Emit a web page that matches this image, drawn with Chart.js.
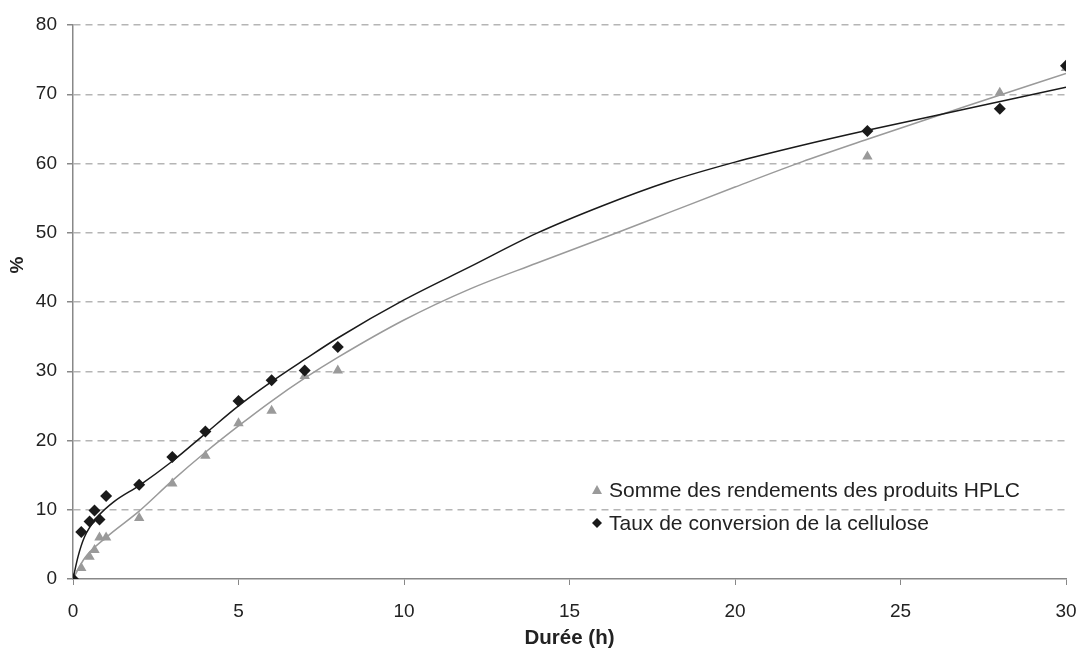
<!DOCTYPE html>
<html>
<head>
<meta charset="utf-8">
<script src="https://cdn.jsdelivr.net/npm/chart.js@4/dist/chart.umd.min.js"></script>
<style>
  html, body { margin: 0; padding: 0; background: #fff; }
  #wrap { width: 1082px; height: 655px; position: relative; }
</style>
</head>
<body>
<div id="wrap"><canvas id="chartCanvas"></canvas></div>
<script>
// measured points (h, %)
const hours = [0, 0.25, 0.5, 0.65, 0.8, 1, 2, 3, 4, 5, 6, 7, 8, 24, 28, 30];
const conversion = [0, 6.8, 8.3, 9.9, 8.6, 12.0, 13.6, 17.6, 21.3, 25.7, 28.7, 30.1, 33.5, 64.7, 67.9, 74.1];
const hplc = [0, 1.6, 3.2, 4.2, 6.0, 6.0, 8.8, 13.8, 17.8, 22.5, 24.3, 29.3, 30.1, 61.0, 70.2, 73.8];

// trend curves
const convTrendX = [0, 0.15, 0.35, 0.75, 1.25, 2, 3, 4, 5, 6, 7, 8, 10, 12, 14, 16, 18, 20, 22, 24, 27, 30];
const convTrendY = [0, 3.2, 6.1, 9.0, 11.2, 13.5, 17.0, 21.0, 25.0, 28.5, 31.7, 34.8, 40.3, 45.1, 49.9, 53.9, 57.4, 60.2, 62.6, 64.8, 67.9, 71.0];
const hplcTrendX = [0, 0.35, 1, 2, 3, 4, 5, 6, 7, 8, 10, 12, 14, 16, 18, 20, 22, 24, 27, 30];
const hplcTrendY = [0, 3.0, 6.0, 9.8, 14.2, 18.3, 22.1, 25.7, 29.0, 32.0, 37.4, 41.9, 45.6, 49.2, 52.9, 56.6, 60.2, 63.5, 68.3, 73.0];

const xTicks = [0, 5, 10, 15, 20, 25, 30];
const yTicks = [0, 10, 20, 30, 40, 50, 60, 70, 80];

const labelHplc = "Somme des rendements des produits HPLC";
const labelConv = "Taux de conversion de la cellulose";

const FONT = "Arial, 'Liberation Sans', sans-serif";
const GREY = "#9a9a9a";
const BLACK = "#1a1a1a";

const toPts = (xs, ys) => xs.map((x, i) => ({ x: x, y: ys[i] }));

// legend drawn inside plot area + rotated "%" title
const overlay = {
  id: "overlay",
  afterDraw(chart) {
    const ctx = chart.ctx;
    ctx.save();
    ctx.font = "bold 19px " + FONT;
    ctx.fillStyle = "#222";
    ctx.textAlign = "center";
    ctx.textBaseline = "middle";
    ctx.translate(18, 265);
    ctx.rotate(-Math.PI / 2);
    ctx.fillText("%", 0, 0);
    ctx.restore();

    ctx.save();
    ctx.font = "21px " + FONT;
    ctx.textBaseline = "middle";
    ctx.textAlign = "left";
    // triangle
    ctx.fillStyle = GREY;
    ctx.beginPath();
    ctx.moveTo(597, 485);
    ctx.lineTo(602, 494);
    ctx.lineTo(592, 494);
    ctx.closePath();
    ctx.fill();
    // diamond
    ctx.fillStyle = BLACK;
    ctx.beginPath();
    ctx.moveTo(597, 518);
    ctx.lineTo(602, 523);
    ctx.lineTo(597, 528);
    ctx.lineTo(592, 523);
    ctx.closePath();
    ctx.fill();
    ctx.fillStyle = "#222";
    ctx.fillText(labelHplc, 609, 491);
    ctx.fillText(labelConv, 609, 524);
    ctx.restore();
  }
};

new Chart(document.getElementById("chartCanvas"), {
  type: "scatter",
  data: {
    datasets: [
      {
        label: labelHplc,
        data: toPts(hours, hplc),
        pointStyle: "triangle",
        pointRadius: 6,
        backgroundColor: GREY,
        borderColor: GREY,
        borderWidth: 0,
        order: 2
      },
      {
        label: labelConv,
        data: toPts(hours, conversion),
        pointStyle: "rectRot",
        pointRadius: 6,
        backgroundColor: BLACK,
        borderColor: BLACK,
        borderWidth: 0,
        order: 1
      },
      {
        label: "trend hplc",
        data: toPts(hplcTrendX, hplcTrendY),
        showLine: true,
        pointRadius: 0,
        borderColor: GREY,
        borderWidth: 1.5,
        cubicInterpolationMode: "monotone",
        order: 4
      },
      {
        label: "trend conv",
        data: toPts(convTrendX, convTrendY),
        showLine: true,
        pointRadius: 0,
        borderColor: BLACK,
        borderWidth: 1.5,
        cubicInterpolationMode: "monotone",
        order: 3
      }
    ]
  },
  options: {
    responsive: true,
    maintainAspectRatio: false,
    animation: false,
    layout: { padding: { top: 25, right: 16, left: 0, bottom: 0 } },
    plugins: {
      legend: { display: false },
      tooltip: { enabled: false }
    },
    scales: {
      x: {
        type: "linear",
        min: 0,
        max: 30,
        afterFit(s) {
          s.height = 76;
          s.paddingLeft = 0;
          s.paddingRight = 0;
        },
        afterBuildTicks(s) { s.ticks = xTicks.map(v => ({ value: v })); },
        grid: {
          drawOnChartArea: false,
          drawTicks: true,
          tickLength: 6,
          tickColor: "#888",
          color: "#888"
        },
        border: { display: true, color: "#888", width: 1.5 },
        ticks: {
          color: "#222",
          padding: 15,
          font: { family: FONT, size: 19 },
          maxRotation: 0
        },
        title: {
          display: true,
          text: "Durée (h)",
          color: "#222",
          font: { family: FONT, size: 20.5, weight: "bold" },
          padding: { top: 0, bottom: 4 }
        }
      },
      y: {
        min: 0,
        max: 80,
        afterFit(s) { s.width = 73; },
        afterBuildTicks(s) { s.ticks = yTicks.map(v => ({ value: v })); },
        grid: {
          color: ctx => (ctx.tick && ctx.tick.value === 0) ? "rgba(0,0,0,0)" : "#b5b5b5",
          lineWidth: 1.5,
          drawTicks: true,
          tickLength: 6,
          tickColor: "#888",
          tickBorderDash: []
        },
        border: { display: true, color: "#888", width: 1.5, dash: [7, 5] },
        ticks: {
          color: "#222",
          padding: 10,
          font: { family: FONT, size: 19 }
        }
      }
    }
  },
  plugins: [overlay]
});
</script>
</body>
</html>
